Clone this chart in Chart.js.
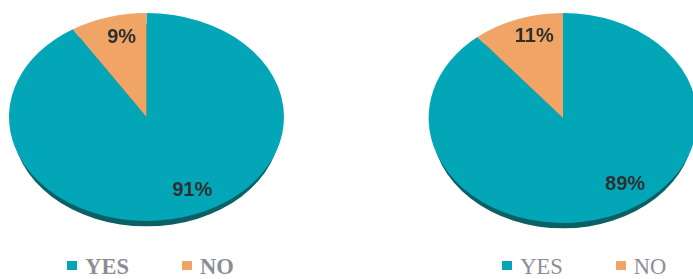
<!DOCTYPE html>
<html>
<head>
<meta charset="utf-8">
<script src="https://cdn.jsdelivr.net/npm/chart.js@4"></script>
<style>
  html, body { margin: 0; padding: 0; background: #fff; }
  body { width: 693px; height: 279px; position: relative; overflow: hidden; }
  canvas { position: absolute; }
  #left { left: 0; top: 0; }
  #right { left: 422.7px; top: 0; }
  .legend { position: absolute; top: 256px; display: flex; font-family: "Liberation Serif", serif; font-size: 22.5px; line-height: 21px; color: #8b8e94; }
  .legend .item { display: flex; align-items: flex-start; }
  .legend .box { width: 10px; height: 9px; margin-top: 5.3px; margin-right: 8px; }
  #legendLeft { left: 67.3px; font-weight: bold; }
  #legendRight { left: 502.3px; }
</style>
</head>
<body>
<canvas id="left" width="293" height="234"></canvas>
<canvas id="right" width="280" height="236"></canvas>
<div class="legend" id="legendLeft"></div>
<div class="legend" id="legendRight"></div>
<script>
const categories = ['YES', 'NO'];
const leftValues = [91, 9];
const rightValues = [89, 11];
const colors = ['#03a6b6', '#f0a567'];

// flatten the pie into an ellipse, add a dark rim under it and percent labels
const tiltPie = {
  id: 'tiltPie',
  beforeDatasetsDraw(chart, args, opts) {
    const arc = chart.getDatasetMeta(0).data[0];
    const ctx = chart.ctx;
    ctx.save();
    ctx.translate(arc.x, arc.y);
    ctx.scale(1, opts.ratio);
    ctx.translate(-arc.x, -arc.y);
    ctx.fillStyle = opts.rimColor;
    ctx.beginPath();
    ctx.arc(arc.x, arc.y + opts.depth / opts.ratio, arc.outerRadius * 0.975, 0, Math.PI * 2);
    ctx.fill();
  },
  afterDatasetsDraw(chart, args, opts) {
    const ctx = chart.ctx;
    ctx.restore();
    const meta = chart.getDatasetMeta(0);
    const values = chart.data.datasets[0].data;
    ctx.save();
    ctx.font = 'bold 20px "Liberation Sans", Arial, sans-serif';
    ctx.fillStyle = '#2e2e2e';
    ctx.textAlign = 'center';
    ctx.textBaseline = 'middle';
    meta.data.forEach((arc, i) => {
      const mid = (arc.startAngle + arc.endAngle) / 2 + opts.shift[i] * Math.PI / 180;
      const r = arc.outerRadius * opts.labelPos[i];
      const lx = arc.x + Math.cos(mid) * r;
      const ly = arc.y + Math.sin(mid) * r * opts.ratio;
      ctx.fillText(values[i] + '%', lx, ly);
    });
    ctx.restore();
  }
};

function makePie(id, values, radius, ratio, shift, labelPos) {
  return new Chart(document.getElementById(id), {
    type: 'pie',
    data: {
      labels: categories,
      datasets: [{
        data: values,
        backgroundColor: colors,
        borderWidth: 0,
        clip: false
      }]
    },
    options: {
      responsive: false,
      devicePixelRatio: 1,
      animation: false,
      radius: radius,
      layout: { padding: 0 },
      plugins: {
        legend: { display: false },
        tooltip: { enabled: false },
        tiltPie: { ratio: ratio, depth: 8, rimColor: '#0b6065', shift: shift, labelPos: labelPos }
      }
    },
    plugins: [tiltPie]
  });
}

makePie('left', leftValues, 137.5, 0.756, [-9, 3], [0.78, 0.79]);
makePie('right', rightValues, 134.4, 0.781, [-16.5, 4.5], [0.78, 0.81]);

function makeLegend(id) {
  const el = document.getElementById(id);
  categories.forEach((c, i) => {
    const item = document.createElement('div');
    item.className = 'item';
    if (i > 0) item.style.marginLeft = '53px';
    const box = document.createElement('span');
    box.className = 'box';
    box.style.background = colors[i];
    const txt = document.createElement('span');
    txt.textContent = c;
    item.appendChild(box);
    item.appendChild(txt);
    el.appendChild(item);
  });
}
makeLegend('legendLeft');
makeLegend('legendRight');
</script>
</body>
</html>
